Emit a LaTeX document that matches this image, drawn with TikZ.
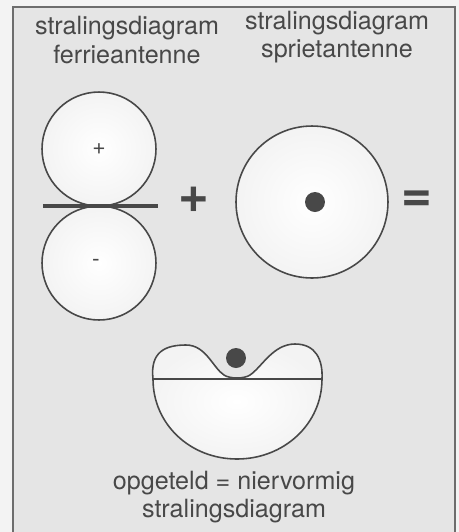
\documentclass[tikz,border=0pt]{standalone}
\usepackage{fontspec}
\setmainfont{TeX Gyre Heros}
\usetikzlibrary{positioning}
\definecolor{inkgray}{RGB}{72,72,72}
\definecolor{panelgray}{RGB}{229,229,229}
\definecolor{papergray}{RGB}{243,243,243}
\tikzset{
  % soft radiation lobes
  lobe/.style={circle, draw=inkgray, line width=0.9pt, inner sep=0pt,
    inner color=white, outer color=panelgray!45},
  % the antenna rod and the sum line
  rodln/.style={line width=2.8pt, inkgray},
  sumln/.style={line width=1.6pt, inkgray},
  % feed point of the whip
  feeddot/.style={circle, fill=inkgray, inner sep=0pt, minimum size=0.4cm},
  % captions
  caption/.style={inkgray, align=center, font=\fontsize{14.3}{16.2}\selectfont},
  opsign/.style={inkgray, font=\fontsize{30}{30}\selectfont\bfseries},
  lobesign/.style={inkgray, font=\fontsize{13}{13}\selectfont},
}
% kidney shaped sum, upper part with the two lobes
\def\kidneypath{(153,379) .. controls (150,352) and (165,345) .. (186,345)
  .. controls (206,345) and (213,368) .. (224,375)
  .. controls (230,379) and (244,379) .. (250,375)
  .. controls (262,367) and (273,344) .. (295,344)
  .. controls (316,344) and (323,360) .. (322,379)
  .. controls (322,424) and (284,459) .. (237,459)
  .. controls (190,459) and (153,424) .. cycle}

\begin{document}
\begin{tikzpicture}[x=0.02cm, y=-0.02cm]
    \useasboundingbox (0,0) rectangle (459,532);
    % paper and panel
    \fill[papergray] (0,0) rectangle (459,532);
    \fill[panelgray] (13,7) rectangle (455,532);
    \draw[inkgray!80, line width=0.6pt] (13,532) -- (13,7) -- (455,7) -- (455,532);
    % ferrite antenna: two lobes on the rod
    \node[caption] (ferrietitle) at (127,40) {stralingsdiagram\\ferrieantenne};
    \node[lobe, minimum size=2.28cm] (pluslobe) at (99,149) {};
    \node[lobe, minimum size=2.28cm] (minlobe) at (99,263) {};
    \node[lobesign] (plusmark) at (pluslobe.center) {+};
    \node[lobesign] (minmark) at ([xshift=-0.06cm]minlobe.center) {-};
    \coordinate (rodleft) at (43,206);
    \coordinate (rodright) at (158,206);
    \draw[rodln] (rodleft) -- (rodright);
    \node[opsign] (plussign) at (194,200) {+};
    % whip antenna: round pattern
    \node[caption] (sprietitle) at (337,37) {stralingsdiagram\\sprietantenne};
    \node[lobe, minimum size=3.04cm] (roundlobe) at (312,202) {};
    \node[feeddot] (sprietdot) at (315,202) {};
    \node[opsign] (equalsign) at (417,201) {=};
    % the sum
    \draw[inkgray, line width=0.9pt, inner color=white, outer color=panelgray!45] \kidneypath;
    \coordinate (sumleft) at (153,379);
    \coordinate (sumright) at (322,379);
    \draw[sumln] (sumleft) -- (sumright);
    \node[feeddot] (sumdot) at (236,358) {};
    \node[caption] (sumtitle) at (234,497) {opgeteld = niervormig\\stralingsdiagram};
  \end{tikzpicture}
\end{document}
